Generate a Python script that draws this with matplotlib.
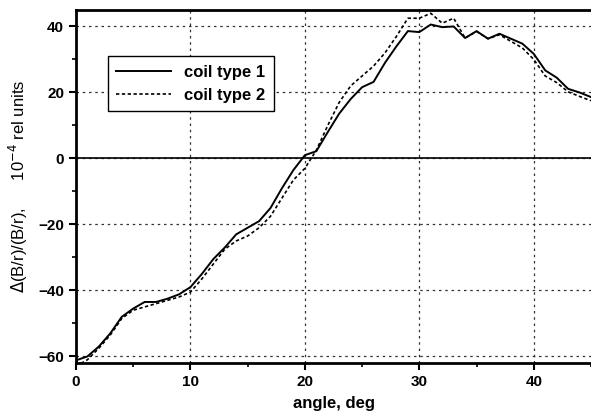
import numpy as np
import matplotlib.pyplot as plt

angle = list(range(0, 46))
coil1 = [-61.2, -60, -57, -53, -48, -45.5, -43.5, -43.5, -42.5, -41.2,
         -39, -35, -30.5, -27, -23, -21, -19, -15, -9, -3.5,
         1, 2.2, 8, 13.6, 18, 21.6, 23.2, 29, 34, 38.6,
         38.3, 40.6, 39.8, 40, 36.5, 38.6, 36.3, 37.8, 36.3, 34.8,
         31.7, 26.7, 24.5, 21.1, 20, 18.6]
coil2 = [-63, -61, -57.5, -53.5, -48.5, -46, -45, -44, -43, -42,
         -40.5, -36.5, -32, -27.5, -25, -23.5, -21, -17.5, -12, -6.5,
         -3, 2.5, 10, 17, 22, 25, 28, 32, 37, 42.5,
         42.5, 44, 41, 42.5, 36.5, 38.5, 36.3, 37.5, 35.5, 33.5,
         30, 25, 23, 20.2, 18.8, 17.5]

plt.rcParams['font.family'] = ['Liberation Sans', 'DejaVu Sans']

fig = plt.figure(figsize=(5.91, 4.16), dpi=100)
ax = fig.add_axes([0.1286, 0.1274, 0.8714, 0.8486])

ax.plot(angle, coil1, color='black', lw=1.4, label='coil type 1')
ax.plot(angle, coil2, color='black', lw=1.2, ls=(0, (2, 1.5)), label='coil type 2')
ax.axhline(0, color='black', lw=1.2)

ax.set_xlim(0, 45)
ax.set_ylim(-62, 45)
ax.set_xticks([0, 10, 20, 30, 40])
ax.set_xticks([5, 15, 25, 35, 45], minor=True)
ax.set_yticks([-60, -40, -20, 0, 20, 40])
ax.set_yticks([-50, -30, -10, 10, 30], minor=True)
ax.grid(True, which='major', color='#333333', ls=(0, (2, 3)), lw=0.9)

for s in ['left', 'bottom', 'top']:
    ax.spines[s].set_linewidth(2)
ax.spines['right'].set_visible(False)
ax.tick_params(which='major', direction='out', length=5, width=1.5, labelsize=11)
ax.tick_params(which='minor', direction='out', length=3, width=1.2)
for lbl in ax.get_xticklabels() + ax.get_yticklabels():
    lbl.set_fontweight('bold')

ax.set_xlabel('angle, deg', fontsize=12, fontweight='bold', labelpad=5)
ax.set_ylabel(r'$\Delta$(B/r)/(B/r),      10$^{-4}$ rel units', fontsize=12, labelpad=6)

leg = ax.legend(loc='upper left', bbox_to_anchor=(0.045, 0.892), fancybox=False,
                edgecolor='black', framealpha=1, borderpad=0.5, handlelength=3.3,
                prop={'weight': 'bold', 'size': 12})
leg.get_frame().set_linewidth(1.0)

fig.savefig('out.png', dpi=100)
